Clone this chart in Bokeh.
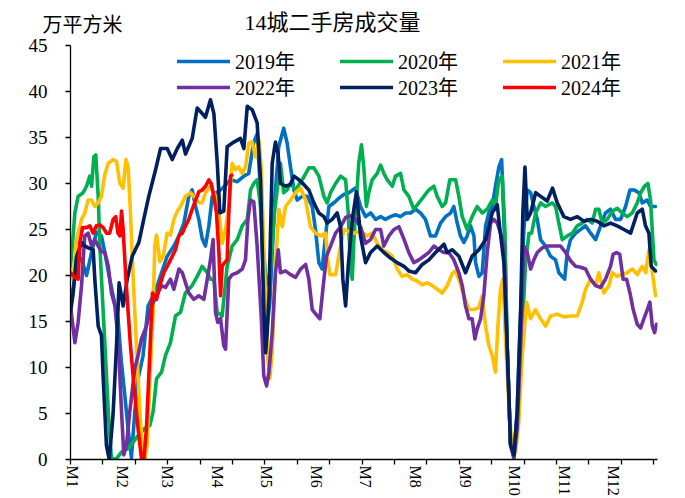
import numpy as np
from bokeh.plotting import figure
from bokeh.models import Range1d, FixedTicker, Legend, LegendItem
from bokeh.layouts import column
from bokeh.core.properties import value
from bokeh.embed import file_html
from bokeh.resources import INLINE

# ---------------- data (day of year, value in 万平方米) ----------------
title_text = "14城二手房成交量"
unit_text = "万平方米"
month_pos = [1, 32, 60, 91, 121, 152, 182, 213, 244, 274, 305, 335]
month_labels = ["M1", "M2", "M3", "M4", "M5", "M6", "M7", "M8", "M9", "M10", "M11", "M12"]
tick_days = list(range(0, 361, 20))
y_ticks = list(range(0, 46, 5))

days_2019 = [0, 2, 4, 6.8, 9.9, 13, 16, 19.1, 21.2, 24.2, 26.3, 29.3, 31.4, 33.5, 35.5, 37.6, 39.7, 41.7, 44.8, 47.9,
             52, 56.2, 59.7, 63.8, 66.9, 70, 73, 75.1, 77.2, 79.2, 81.3, 83.3, 85.4, 87.5, 90, 94, 98.8, 103, 107, 110,
             113.1, 115.2, 117, 119, 121, 123, 126, 128.5, 131.6, 133.7, 135.8, 137.9, 139.9, 143, 146.1, 149.2, 151.2,
             153.3, 155.3, 157.4, 159.5, 162.6, 165.6, 168.7, 171.8, 175.9, 179, 182.1, 185.2, 188.3, 191.4, 194.4,
             197.5, 200.6, 203.7, 206.8, 209.9, 213, 216, 219.1, 222.2, 225.3, 228.4, 231.5, 234.6, 236.6, 238.7,
             240.7, 242.8, 244.8, 246.9, 249, 250, 252.1, 254.1, 256.2, 258.2, 260.3, 262.3, 264.4, 266.1, 268.1,
             269.5, 271.6, 273.7, 275.7, 277.8, 279.8, 281.9, 284, 286, 288.1, 290.1, 293.2, 296.3, 299.4, 301.4,
             303.5, 305, 306.6, 308.6, 311.7, 314.8, 317.9, 321, 324.1, 327.2, 330.2, 333.3, 336.4, 339.5, 342.6,
             345.3, 347.7, 350.8, 352.9, 355.9, 358, 361]
vals_2019 = [17.0, 19.0, 21.5, 21.8, 20.0, 22.5, 24.7, 24.3, 22.5, 19.6, 17.8, 15.3, 10.6, 7.0, 3.4, 0.2, 5.2, 8.8, 11.3, 16.7,
             18.1, 20.3, 22.1, 23.2, 24.3, 25.7, 28.6, 29.3, 27.5, 26.1, 24.0, 23.2, 25.4, 28.6, 29.0, 29.5, 30.4, 30.2, 30.8, 31.1,
             34.5, 35.4, 30.0, 20.0, 14.0, 17.0, 28.0, 34.0, 36.0, 34.4, 31.8, 29.3, 28.2, 28.6, 28.6, 27.5, 25.0,
             21.4, 20.7, 24.3, 27.5, 27.9, 28.4, 28.8, 29.0, 29.5, 27.5, 26.4, 26.8, 26.1, 26.4, 26.1,
             26.4, 26.6, 26.4, 26.8, 26.8, 27.2, 26.8, 26.1, 24.3, 24.3, 25.7, 26.4, 26.8, 27.5, 25.7,
             24.3, 23.6, 24.3, 25.4, 24.3, 21.4, 19.9, 20.3, 25.4, 26.8, 27.5, 29.7, 31.8, 32.6, 23.2,
             12.4, 1.6, 0.5, 5.2, 16.0, 25.0, 29.3, 29.0, 27.5, 26.1, 23.9, 23.2, 22.1, 21.7, 20.3,
             19.9, 19.6, 22.5, 23.9, 24.6, 25.0, 25.4, 24.6, 23.9, 25.4, 26.8, 27.2, 26.1, 26.1, 27.5,
             29.3, 29.3, 29.0, 27.9, 28.2, 27.5, 27.5]

days_2020 = [0, 1.5, 2.7, 4.7, 7.8, 9.9, 11.9, 13, 14.4, 15.6, 17.1, 18.1, 20.2, 21.8, 23.3, 25.3, 28.4, 31.5, 35.6, 38.7,
             41.7, 45.9, 49, 51, 53.1, 56.2, 58.6, 61.7, 64.8, 67.9, 70.9, 75, 78.2, 81.3, 84.4, 86.4, 88.5, 90.5, 93.6,
             96.7, 99.8, 102.9, 106, 109.1, 111.1, 113.1, 115.2, 117, 119, 121, 123, 126, 129.6, 131.6, 133.7, 135.8,
             138.9, 143, 147.1, 150.2, 153.3, 156.4, 158.4, 160.5, 163.6, 166.7, 169.8, 171.4, 172.8, 173.9, 174.9,
             177.9, 179.6, 181, 182.6, 184.1, 186.2, 189.3, 191.4, 193.4, 195.5, 198.6, 200.6, 203.7, 205.8, 208.8,
             211.9, 215, 218.1, 221.2, 224.3, 226.3, 229.4, 231.5, 234.1, 235.6, 237.7, 239.7, 241.8, 244.8, 247.9,
             251, 254.1, 257.2, 260.3, 262.3, 264.4, 266.5, 268.1, 269.5, 271.6, 273.7, 275.7, 278.8, 280.9, 283,
             284.6, 287.1, 290.2, 293.2, 297.3, 299.4, 301.4, 303.5, 306.6, 309.7, 312.8, 315.8, 318.9, 322, 324.1,
             326.1, 328.2, 331.3, 334.4, 337.4, 340.5, 343.6, 346.7, 349.8, 351.9, 354.3, 356.4, 358, 360.1, 361.5]
vals_2020 = [21.0, 24.0, 26.8, 28.6, 29.0, 29.7, 30.8, 29.7, 32.9, 33.1, 28.6, 23.2, 16.0, 10.6, 5.2, 0.0, 0.1, 0.8, 1.2, 1.9,
             2.6, 3.4, 3.7, 5.2, 8.8, 9.5, 11.3, 12.7, 15.6, 16.0, 18.1, 18.9, 19.9, 21.0, 20.3, 19.6, 19.6, 16.0, 15.6,
             21.0, 23.2, 23.9, 25.4, 26.1, 29.3, 30.0, 30.4, 28.0, 23.0, 19.0, 20.0, 27.0, 32.2, 29.0, 29.3, 30.0,
             29.3, 30.4, 31.7, 31.7, 30.8, 28.6, 27.9, 29.0, 30.0, 30.8, 30.4, 26.8, 21.0, 19.6, 23.9,
             32.2, 34.2, 31.8, 27.5, 29.0, 30.4, 31.1, 32.0, 31.1, 30.4, 29.7, 30.8, 31.1, 29.3, 28.6,
             27.2, 27.9, 28.6, 29.3, 29.7, 28.6, 27.5, 27.9, 30.4, 30.4, 30.4, 28.6, 26.4, 25.0, 26.4,
             27.5, 26.8, 27.2, 28.2, 27.5, 30.4, 30.8, 25.0, 12.4, 1.6, 0.1, 3.4, 14.2, 21.4, 24.6,
             24.6, 26.8, 27.9, 27.5, 27.9, 27.5, 25.7, 23.9, 24.3, 24.6, 25.4, 25.7, 26.1, 25.7, 27.2,
             27.2, 25.7, 26.1, 27.0, 27.3, 26.8, 26.4, 26.8, 27.9, 29.0, 29.7, 30.0, 28.2, 21.7, 21.2]

days_2021 = [0, 1.6, 3.7, 6.8, 8.8, 10.9, 13, 15, 17.1, 19.1, 21.2, 23.3, 26.3, 28.4, 30.5, 32.5, 34.2, 35.6, 37, 38.7,
             40.7, 42.8, 44.4, 45.9, 47.3, 49, 51, 52, 53.1, 55.2, 57.2, 59.7, 61.7, 63.8, 66, 67.9, 70.9, 74.1, 77.2,
             79.2, 81.3, 83.3, 86.4, 89.5, 91.6, 93.6, 95.7, 97.7, 99.8, 101.9, 103.9, 106, 108, 110.1, 112.1, 114.2,
             116.3, 117.7, 119, 120.4, 121.8, 123, 124.5, 126.5, 128.6, 130.7, 132.7, 135.8, 138.9, 142, 145.1, 148.1,
             151.2, 154.3, 157.4, 158.8, 160.1, 163.6, 165.6, 168.7, 171.8, 174.9, 179, 183.1, 186.2, 189.3, 192.4,
             195.5, 198.6, 201.7, 204.7, 207.8, 210.9, 214, 217.1, 220.2, 223.3, 226.3, 229.4, 232.5, 235.6, 237.5,
             239.7, 242.8, 245.9, 249, 252, 254.1, 256.2, 258.2, 260.3, 262.3, 263.8, 265.4, 266.9, 268.5, 270.6,
             272.6, 274.7, 276.7, 278.8, 281.5, 284, 287, 290.1, 293.2, 296.3, 300.4, 304.5, 308.6, 312.8, 315.8,
             317.9, 321, 324.1, 326.1, 329.2, 332.3, 334.4, 337.4, 340.5, 343.6, 346.7, 349.8, 352.9, 355, 357, 359,
             361.1]
vals_2021 = [20.7, 19.6, 23.9, 26.1, 26.8, 28.2, 28.2, 27.5, 27.9, 28.6, 31.0, 32.2, 32.6, 32.4, 30.0, 29.5, 32.6, 31.8, 26.8, 19.6,
             12.4, 5.2, 0.8, 0.0, 1.6, 8.8, 16.0, 23.2, 24.4, 21.5, 22.1, 24.6, 24.4, 26.1, 27.0, 27.5, 28.6, 29.0, 28.4,
             27.9, 27.9, 29.0, 29.7, 28.6, 26.8, 23.5, 25.0, 27.5, 32.2, 31.5, 31.8, 31.1, 31.8, 34.4, 34.5, 32.9,
             34.7, 31.8, 24.6, 17.4, 10.9, 8.8, 11.7, 21.0, 27.2, 25.3, 27.5, 28.2, 29.0, 29.5, 28.2, 25.3,
             24.6, 24.3, 24.6, 21.7, 20.1, 20.1, 22.1, 25.0, 24.8, 24.6, 24.8, 24.3, 24.6, 23.5, 22.8,
             22.5, 22.1, 20.7, 19.9, 20.1, 19.6, 19.4, 19.0, 19.2, 18.9, 18.5, 18.1, 18.9, 20.2, 20.5,
             19.6, 17.8, 16.3, 16.3, 16.5, 17.8, 14.5, 12.4, 11.3, 9.5, 14.5, 18.5, 19.6, 13.1, 5.9,
             1.2, 0.8, 4.1, 11.3, 17.1, 15.3, 16.3, 15.3, 14.5, 15.6, 15.8, 15.5, 15.6, 15.6, 17.1,
             18.5, 19.6, 18.9, 20.3, 18.1, 18.9, 20.3, 19.9, 20.1, 20.3, 20.7, 20.1, 21.0, 20.3, 22.8, 20.5,
             17.8]

days_2022 = [0, 2.7, 4.7, 6.8, 8.8, 10.9, 13, 15, 17.1, 19.1, 21.2, 23.3, 25.3, 27.4, 29.4, 31.5, 32.9, 34.6, 36.6, 39.7,
             41.7, 43.8, 46.9, 50, 53.1, 56.2, 58.6, 61.7, 63.8, 66.9, 69, 71, 73, 76.1, 79.2, 82.3, 84.4, 86.4, 88,
             89.5, 90.9, 92.6, 94.6, 95.7, 96.7, 97.7, 99.8, 102.9, 106, 108, 109.5, 111.1, 113.1, 115.2, 117.7, 119.3,
             121, 122.4, 124.5, 126.5, 128.2, 129.6, 132.7, 135.8, 138.9, 142, 145.1, 147.1, 149.2, 152.3, 153.9, 156,
             158, 160.5, 163.6, 166.7, 169.8, 172.8, 175.9, 179, 182.1, 185.2, 188.3, 191.4, 193.4, 196.5, 199.6,
             202.7, 205.7, 208.8, 211.9, 215, 218.1, 221.2, 224.3, 227.3, 230.4, 233.5, 236.6, 239.7, 241.8, 243.8,
             245.9, 247.9, 249.6, 251, 253.1, 255.1, 257.2, 259.3, 261.3, 263.4, 265.4, 267.5, 269.5, 271.6, 273.7,
             275.7, 277.8, 279.8, 281.9, 284, 286, 288.1, 291.2, 294.2, 298.4, 302.5, 305.6, 308.6, 311.7, 314.8,
             317.9, 321, 324.1, 327.2, 330.2, 333.3, 334.9, 337, 339, 341.1, 343.2, 345.3, 347.3, 349.8, 351.9, 353.9,
             356, 357.6, 359.1, 360.5, 361.7]
vals_2022 = [16.7, 12.7, 14.9, 18.9, 24.3, 24.6, 23.2, 23.9, 23.2, 22.6, 22.5, 21.0, 18.1, 16.7, 13.1, 5.2, 0.5, 1.6, 5.2, 9.9,
             11.3, 13.1, 14.5, 16.7, 17.8, 18.9, 18.7, 19.6, 18.5, 20.7, 20.3, 19.2, 18.1, 17.4, 17.8, 17.4, 19.6, 21.7, 23.9,
             16.0, 14.9, 15.3, 12.4, 12.0, 16.0, 19.6, 20.1, 20.3, 20.7, 21.7, 26.1, 28.2, 28.0, 23.2, 15.6, 9.1,
             8.0, 9.4, 13.8, 20.3, 22.8, 20.3, 20.5, 20.1, 19.8, 20.7, 21.2, 19.6, 16.3, 15.6, 15.3, 18.9,
             22.1, 23.2, 24.6, 25.3, 26.3, 26.5, 26.1, 25.3, 23.5, 23.9, 25.0, 25.0, 23.2, 24.3, 25.0,
             25.3, 24.0, 22.5, 21.4, 21.7, 22.1, 22.5, 23.2, 22.8, 22.5, 22.5, 21.7, 20.3, 18.9, 16.7,
             15.3, 15.3, 13.1, 14.2, 15.3, 17.8, 22.5, 25.7, 26.1, 25.7, 24.6, 23.2, 12.4, 1.6, 0.2,
             3.4, 12.4, 23.2, 22.5, 20.7, 21.7, 22.5, 23.0, 23.2, 23.2, 23.2, 22.5, 21.6, 21.0, 20.9,
             20.7, 19.6, 18.9, 18.7, 19.6, 21.0, 22.3, 22.5, 22.3, 19.6, 19.6, 18.1, 16.3, 14.7, 14.3, 15.3,
             16.3, 17.1, 14.5, 13.8, 14.7]

days_2023 = [0, 1.6, 3.7, 6.8, 8, 11, 14, 15, 17.1, 19.1, 20.2, 22.2, 23.9, 26.3, 28.4, 30, 32.5, 35, 38.1, 42.2,
             45.2, 48.3, 52.5, 55.6, 59.7, 62.8, 65.9, 69, 71, 75.1, 78.2, 81.3, 83.3, 86.4, 88.5, 90.6, 92.2, 94.6,
             96.7, 100.8, 104.9, 107, 109.1, 112.2, 115.2, 117.3, 118.3, 119.4, 120.4, 121.4, 122.5, 123.5, 124.5,
             126.5, 128.1, 129.6, 132.7, 135.8, 137.9, 141, 144, 147.1, 150.2, 153.3, 156.4, 158.4, 161.5, 164.6,
             166.7, 168.1, 169.8, 171.4, 173.9, 176.5, 179, 182.1, 185.2, 189.3, 193.4, 197.5, 201.6, 205.8, 208.8,
             212.9, 217.1, 221.2, 225.3, 230.5, 232.5, 235.6, 239.7, 243.8, 247.9, 252.1, 256.2, 260.3, 263.4, 264.8,
             267.5, 269.5, 271.6, 273.7, 275.7, 277.8, 279.2, 280.5, 281.9, 284, 287.1, 290.2, 294.2, 297.5, 300.4,
             304.5, 308.6, 312.8, 316.9, 321, 325.1, 329.2, 333.3, 337.4, 341.6, 345.7, 349.8, 352.9, 354.9, 357,
             358.4, 361.1]
vals_2023 = [16.0, 18.0, 22.0, 23.6, 23.3, 23.0, 22.8, 19.6, 14.5, 13.5, 8.8, 1.5, 0.0, 5.0, 12.4, 19.2, 16.7, 19.6, 22.1, 23.6,
             26.1, 28.6, 31.5, 33.8, 33.8, 32.6, 33.8, 34.7, 33.2, 34.9, 38.2, 37.6, 37.2, 39.1, 37.6, 32.2, 26.8, 27.0,
             34.0, 34.5, 34.9, 33.8, 38.4, 38.0, 36.6, 30.4, 23.2, 16.0, 11.6, 13.8, 17.8, 25.0, 32.2,
             34.5, 33.3, 30.0, 29.7, 29.9, 30.8, 30.4, 29.9, 29.3, 27.9, 26.8, 26.4, 25.7, 26.1, 26.8,
             25.3, 19.6, 16.7, 21.0, 26.0, 29.1, 24.3, 21.4, 22.5, 23.2, 22.5, 21.9, 21.4, 21.0, 20.5,
             20.3, 21.2, 21.7, 22.5, 23.4, 22.5, 22.8, 22.1, 20.3, 22.1, 22.8, 23.9, 26.8, 27.7, 25.4,
             21.4, 12.4, 1.6, 0.5, 5.2, 16.0, 26.8, 31.8, 26.1, 26.8, 29.0, 28.6, 28.1, 29.5, 27.9,
             26.4, 26.1, 26.4, 25.9, 26.1, 25.9, 25.4, 25.7, 25.4, 25.0, 24.6, 26.8, 27.2, 25.4, 24.6,
             21.0, 20.5]

days_2024 = [0, 2.7, 4.7, 5.8, 7.4, 9.9, 11.9, 14, 16, 18.1, 20.2, 22.2, 24.2, 26.3, 27.9, 29.3, 30.5, 31.5, 32.5, 34.2,
             35.6, 37, 39.7, 41.7, 43.8, 45.3, 46.9, 49, 50.6, 53.1, 55.1, 57.6, 59.7, 61.7, 64.8, 66.9, 69, 71, 73,
             75.1, 77.2, 79.2, 81.3, 83.3, 85.4, 86.8, 88.5, 90.1, 91.6, 92.6, 93.6, 95.1, 96.7, 97.7, 98.8, 99.5]
vals_2024 = [20.3, 19.8, 19.6, 23.6, 25.2, 25.2, 25.4, 24.6, 25.4, 25.5, 25.2, 24.6, 24.6, 26.1, 26.4, 24.6, 24.3, 27.0, 25.0, 19.6,
             16.0, 12.4, 7.0, 3.4, 0.1, 0.1, 3.4, 11.7, 18.1, 17.4, 18.9, 20.3, 21.0, 21.7, 22.8, 24.3, 24.6, 25.4, 26.1,
             27.2, 28.2, 29.1, 29.3, 29.7, 30.4, 30.0, 28.6, 26.8, 22.5, 17.8, 21.0, 21.4, 21.7, 26.8, 30.8, 30.9]

series = [
    ("2019年", days_2019, vals_2019, "#0070C0"),
    ("2020年", days_2020, vals_2020, "#00B050"),
    ("2021年", days_2021, vals_2021, "#FFC000"),
    ("2022年", days_2022, vals_2022, "#7030A0"),
    ("2023年", days_2023, vals_2023, "#002060"),
    ("2024年", days_2024, vals_2024, "#FF0000"),
]

FONT = "Liberation Serif, Noto Sans CJK SC"

# ---------------- header (title + unit) ----------------
HEADER_H = 35
head = figure(width=685, height=HEADER_H, output_backend="svg", toolbar_location=None,
              x_range=Range1d(0, 685), y_range=Range1d(HEADER_H, 0),
              x_axis_type=None, y_axis_type=None,
              min_border_left=0, min_border_right=0, min_border_top=0, min_border_bottom=0)
head.frame_align = False
head.outline_line_color = None
head.grid.visible = False
head.text(x=[332], y=[22], text=[title_text], text_align="center", text_baseline="middle",
          text_font=value(FONT), text_font_size="22px", text_color="black")
head.text(x=[82], y=[24], text=[unit_text], text_align="center", text_baseline="middle",
          text_font=value(FONT), text_font_size="20px", text_color="black")

# ---------------- main chart ----------------
p = figure(width=685, height=498 - HEADER_H, output_backend="svg", toolbar_location=None,
           x_range=Range1d(0, 362.3), y_range=Range1d(0, 45),
           min_border_left=70, min_border_right=28, min_border_top=10, min_border_bottom=37)
p.frame_align = False
p.outline_line_color = None
p.grid.visible = False
p.background_fill_color = "white"
p.border_fill_color = "white"

# x axis
p.xaxis.ticker = FixedTicker(ticks=month_pos, minor_ticks=tick_days)
p.xaxis.major_label_overrides = {m: lab for m, lab in zip(month_pos, month_labels)}
p.xaxis.major_label_orientation = "vertical"
p.xaxis.major_tick_line_color = None
p.xaxis.major_tick_out = 5
p.xaxis.major_tick_in = 0
p.xaxis.minor_tick_line_color = "black"
p.xaxis.minor_tick_line_width = 1.3
p.xaxis.minor_tick_out = 5
p.xaxis.minor_tick_in = 0
p.xaxis.axis_line_color = "black"
p.xaxis.axis_line_width = 1.3
p.xaxis.major_label_text_font = FONT
p.xaxis.major_label_text_font_size = "16px"
p.xaxis.major_label_text_color = "black"
p.xaxis.major_label_standoff = 1

# y axis
p.yaxis.ticker = FixedTicker(ticks=y_ticks)
p.yaxis.minor_tick_line_color = None
p.yaxis.major_tick_out = 5
p.yaxis.major_tick_in = 0
p.yaxis.major_tick_line_color = "black"
p.yaxis.major_tick_line_width = 1.3
p.yaxis.axis_line_color = "black"
p.yaxis.axis_line_width = 1.3
p.yaxis.major_label_text_font = FONT
p.yaxis.major_label_text_font_size = "19px"
p.yaxis.major_label_text_color = "black"
p.yaxis.major_label_standoff = 18

renderers = []
for name, d, v, c in series:
    r = p.line(d, v, line_color=c, line_width=3.6, line_join="round", line_cap="round")
    renderers.append((name, r))

def make_legend(items, y):
    return Legend(items=[LegendItem(label=n, renderers=[r]) for n, r in items],
                  orientation="horizontal", location=(107, y),
                  glyph_width=53, glyph_height=20, label_height=20, label_width=105,
                  label_standoff=5, spacing=0, padding=0, margin=0,
                  border_line_color=None, background_fill_alpha=0,
                  label_text_font=FONT, label_text_font_size="20px",
                  label_text_color="black", label_text_baseline="middle")

p.add_layout(make_legend(renderers[:3], 384))
p.add_layout(make_legend(renderers[3:], 358))

layout = column(head, p, spacing=0)
open("out.html", "w").write(file_html(layout, INLINE))
